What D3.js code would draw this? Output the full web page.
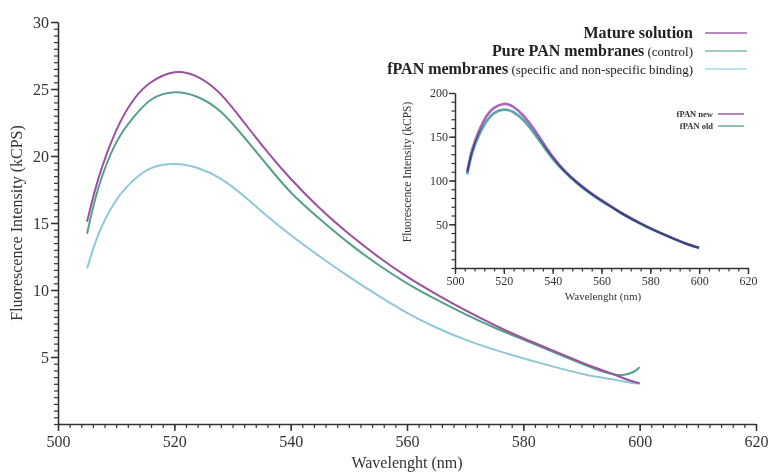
<!DOCTYPE html>
<html>
<head>
<meta charset="utf-8">
<script src="https://cdn.jsdelivr.net/npm/d3@7"></script>
<style>
  body { margin: 0; background: #fff; }
  svg { font-family: "Liberation Serif", "DejaVu Serif", serif; }
  .axis path, .axis line { stroke: #333; }
  .axis text { fill: #333; font-family: "Liberation Serif", serif; }
</style>
</head>
<body>
<div id="chart"></div>
<script>
// main chart data (nm vs kCPS)
const wavelengths = [505, 507, 510, 513, 516, 520, 524, 528, 532, 536, 540, 545, 550, 555, 560, 565, 570, 575, 580, 585, 590, 593, 595, 597, 599, 600];
const matureSolution = [15.1, 18.4, 21.9, 24.2, 25.5, 26.25, 25.9, 24.6, 22.5, 20.3, 18.3, 16.1, 14.2, 12.5, 11.0, 9.7, 8.5, 7.4, 6.4, 5.5, 4.6, 4.1, 3.8, 3.45, 3.15, 3.05];
const purePAN = [14.2, 17.7, 21.0, 22.9, 24.2, 24.75, 24.4, 23.3, 21.4, 19.3, 17.3, 15.3, 13.5, 11.9, 10.5, 9.3, 8.2, 7.2, 6.3, 5.4, 4.5, 4.0, 3.75, 3.65, 3.9, 4.25];
const fPAN = [11.6, 14.2, 16.7, 18.2, 19.1, 19.4, 19.1, 18.3, 17.0, 15.5, 14.1, 12.5, 11.0, 9.6, 8.3, 7.2, 6.3, 5.55, 4.9, 4.3, 3.75, 3.5, 3.35, 3.2, 3.05, 3.0];

// inset data
const insetWavelengths = [505, 507, 510, 513, 516, 520, 524, 528, 532, 536, 540, 545, 550, 555, 560, 565, 570, 575, 580, 585, 590, 595, 600];
const fpanNew = [110, 135, 158, 174, 183, 187.5, 184, 174, 160, 143.5, 127.5, 111, 98, 87, 77.5, 68.5, 60, 52.5, 45.5, 39, 33, 27.5, 23];
const fpanOld = [107, 131, 153, 168, 177, 181, 178, 169, 155.5, 140, 125, 109.5, 97, 86, 76.5, 68, 59.5, 52, 45, 39, 33, 27.5, 23];

const mainYTicks = [5, 10, 15, 20, 25, 30];
const mainXTicks = [500, 520, 540, 560, 580, 600, 620];
const insetYTicks = [50, 100, 150, 200];

const width = 772, height = 472;
const svg = d3.select("#chart").append("svg")
    .attr("width", width)
    .attr("height", height);

// ---------- main chart ----------
const x = d3.scaleLinear().domain([500, 620]).range([58, 756]);
const y = d3.scaleLinear().domain([0, 30]).range([424, 22]);

// minor ticks first
svg.append("g").attr("class", "axis")
    .attr("transform", "translate(0,424)")
    .call(d3.axisBottom(x).tickValues(d3.range(500, 621, 2)).tickSize(4).tickSizeOuter(0).tickFormat(""))
    .selectAll("line").attr("stroke-width", 1.2);
svg.append("g").attr("class", "axis")
    .attr("transform", "translate(58,0)")
    .call(d3.axisLeft(y).tickValues(d3.range(0, 30.01, 0.5)).tickSize(4).tickSizeOuter(0).tickFormat(""))
    .selectAll("line").attr("stroke-width", 1.2);

const xAxis = svg.append("g").attr("class", "axis")
    .attr("transform", "translate(0,424)")
    .call(d3.axisBottom(x).tickValues(mainXTicks).tickSize(7).tickSizeOuter(0).tickPadding(5));
xAxis.select("path").attr("stroke-width", 1.6);
xAxis.selectAll("line").attr("stroke-width", 1.5);
xAxis.selectAll("text").style("font-size", "16px");

const yAxis = svg.append("g").attr("class", "axis")
    .attr("transform", "translate(58,0)")
    .call(d3.axisLeft(y).tickValues(mainYTicks).tickSize(7).tickSizeOuter(0).tickPadding(2));
yAxis.select("path").attr("stroke-width", 1.6);
yAxis.selectAll("line").attr("stroke-width", 1.5);
yAxis.selectAll("text").style("font-size", "16px");

svg.append("text")
    .attr("x", 407).attr("y", 468)
    .attr("text-anchor", "middle")
    .style("font-size", "16px").attr("fill", "#333")
    .text("Wavelenght (nm)");

svg.append("text")
    .attr("transform", "translate(22,223) rotate(-90)")
    .attr("text-anchor", "middle")
    .style("font-size", "16px").attr("fill", "#333")
    .text("Fluorescence Intensity (kCPS)");

const line = d3.line()
    .x(d => x(d[0]))
    .y(d => y(d[1]))
    .curve(d3.curveNatural);

const mainSeries = [
  { values: fPAN, color: "#8ec8d6" },
  { values: purePAN, color: "#55a08c" },
  { values: matureSolution, color: "#9b4f9f" }
];
mainSeries.forEach(s => {
  svg.append("path")
      .datum(wavelengths.map((w, i) => [w, s.values[i]]))
      .attr("fill", "none")
      .attr("stroke", s.color)
      .attr("stroke-width", 2)
      .attr("d", line);
});

// legend
const legendRows = [
  { bold: "Mature solution", rest: "", color: "#a35fae", y: 38 },
  { bold: "Pure PAN membranes", rest: " (control)", color: "#86b8b0", y: 56 },
  { bold: "fPAN membranes", rest: " (specific and non-specific binding)", color: "#a9d7e6", y: 74 }
];
legendRows.forEach(r => {
  const t = svg.append("text")
      .attr("x", 693).attr("y", r.y)
      .attr("text-anchor", "end")
      .attr("fill", "#222");
  t.append("tspan").style("font-size", "16px").style("font-weight", "bold").text(r.bold);
  if (r.rest) t.append("tspan").style("font-size", "13px").text(r.rest);
  svg.append("line")
      .attr("x1", 705).attr("x2", 747)
      .attr("y1", r.y - 5).attr("y2", r.y - 5)
      .attr("stroke", r.color).attr("stroke-width", 1.6);
});

// ---------- inset ----------
const xi = d3.scaleLinear().domain([500, 620]).range([455, 748]);
const yi = d3.scaleLinear().domain([0, 200]).range([268, 93]);

svg.append("g").attr("class", "axis")
    .attr("transform", "translate(0,268)")
    .call(d3.axisBottom(xi).tickValues(d3.range(500, 621, 4)).tickSize(3.5).tickSizeOuter(0).tickFormat(""))
    .selectAll("line").attr("stroke-width", 1.2);
svg.append("g").attr("class", "axis")
    .attr("transform", "translate(455,0)")
    .call(d3.axisLeft(yi).tickValues(d3.range(0, 201, 10)).tickSize(3.5).tickSizeOuter(0).tickFormat(""))
    .selectAll("line").attr("stroke-width", 1.2);

const xiAxis = svg.append("g").attr("class", "axis")
    .attr("transform", "translate(0,268)")
    .call(d3.axisBottom(xi).tickValues(mainXTicks).tickSize(6).tickSizeOuter(0).tickPadding(2));
xiAxis.select("path").attr("stroke-width", 1.5);
xiAxis.selectAll("line").attr("stroke-width", 1.4);
xiAxis.selectAll("text").style("font-size", "12px");

const yiAxis = svg.append("g").attr("class", "axis")
    .attr("transform", "translate(455,0)")
    .call(d3.axisLeft(yi).tickValues(insetYTicks).tickSize(6).tickSizeOuter(0).tickPadding(1));
yiAxis.select("path").attr("stroke-width", 1.5);
yiAxis.selectAll("line").attr("stroke-width", 1.4);
yiAxis.selectAll("text").style("font-size", "12px");

svg.append("text")
    .attr("x", 603).attr("y", 300)
    .attr("text-anchor", "middle")
    .style("font-size", "11px").attr("fill", "#333")
    .text("Wavelenght (nm)");

svg.append("text")
    .attr("transform", "translate(411,172) rotate(-90)")
    .attr("text-anchor", "middle")
    .style("font-size", "11.5px").attr("fill", "#333")
    .text("Fluorescence Intensity (kCPS)");

const lineInset = d3.line()
    .x(d => xi(d[0]))
    .y(d => yi(d[1]))
    .curve(d3.curveNatural);

[{ values: fpanOld, color: "#5aa6a8" }, { values: fpanNew, color: "#a866c0" }].forEach(s => {
  svg.append("path")
      .datum(insetWavelengths.map((w, i) => [w, s.values[i]]))
      .attr("fill", "none")
      .attr("stroke", s.color)
      .attr("stroke-width", 2.6)
      .style("mix-blend-mode", "multiply")
      .attr("d", lineInset);
});

const insetLegend = [
  { label: "fPAN new", color: "#a064b0", y: 117 },
  { label: "fPAN old", color: "#6fb0a6", y: 129 }
];
insetLegend.forEach(r => {
  svg.append("text")
      .attr("x", 713).attr("y", r.y)
      .attr("text-anchor", "end")
      .style("font-size", "8.5px").style("font-weight", "bold")
      .attr("fill", "#333")
      .text(r.label);
  svg.append("line")
      .attr("x1", 718).attr("x2", 744)
      .attr("y1", r.y - 3).attr("y2", r.y - 3)
      .attr("stroke", r.color).attr("stroke-width", 1.6);
});
</script>
</body>
</html>
